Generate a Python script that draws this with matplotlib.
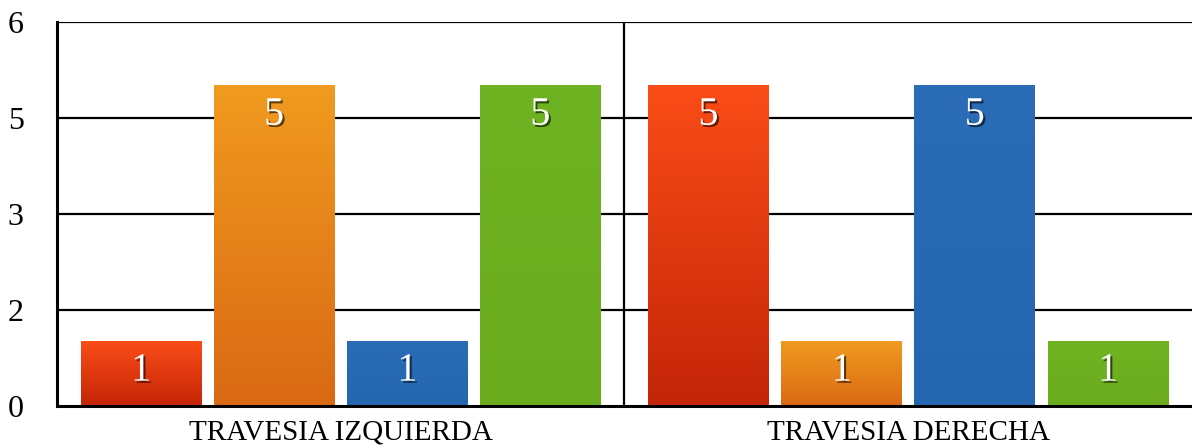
import matplotlib.pyplot as plt
import matplotlib.patheffects as pe
import numpy as np
from matplotlib.colors import LinearSegmentedColormap

categories = ['TRAVESIA IZQUIERDA', 'TRAVESIA DERECHA']
# four series per category
series_vals = [
    [1, 5],   # red
    [5, 1],   # orange
    [1, 5],   # blue
    [5, 1],   # green
]
ytick_vals = [0, 1.5, 3, 4.5, 6]
ytick_labels = ['0', '2', '3', '5', '6']

# gradient colours (top, bottom)
grads = [
    ('#fa4c17', '#c42508'),
    ('#f09a1f', '#da6914'),
    ('#2a6cb6', '#2466b0'),
    ('#70b322', '#6aac1e'),
]

plt.rcParams['font.family'] = ['Liberation Serif', 'DejaVu Serif']

fig = plt.figure(figsize=(11.92, 4.48), dpi=100)
ax = fig.add_axes([0.0478, 0.09375, 0.9522, 0.8572])

x = np.arange(len(categories))
step = 0.2346
width = 0.213

for i, vals in enumerate(series_vals):
    bars = ax.bar(x + (i - 1.5) * step, vals, width, color='none', zorder=3)
    cmap = LinearSegmentedColormap.from_list('g%d' % i, [grads[i][1], grads[i][0]])
    for b, v in zip(bars, vals):
        x0 = b.get_x()
        x1 = x0 + b.get_width()
        ax.imshow(np.linspace(0, 1, 100).reshape(-1, 1), cmap=cmap, aspect='auto',
                  origin='lower', extent=(x0, x1, 0, b.get_height()), zorder=3)
        ax.annotate(str(v), (b.get_x() + b.get_width() / 2, b.get_height()),
                    xytext=(0, -21), textcoords='offset points', ha='center', va='center',
                    fontsize=29, color='white', zorder=5,
                    path_effects=[pe.withSimplePatchShadow(offset=(1.5, -1.5), shadow_rgbFace='black', alpha=0.6)])

ax.set_xlim(-0.5, 1.5)
ax.set_ylim(0, 6)
ax.set_yticks(ytick_vals)
ax.set_yticklabels(ytick_labels, fontsize=23)
ax.set_xticks(x)
ax.set_xticklabels(categories, fontsize=21)
ax.tick_params(length=0)
ax.tick_params(axis='y', pad=24)
ax.tick_params(axis='x', pad=10)

for yv in ytick_vals[1:]:
    ax.axhline(yv, color='black', lw=1.6, zorder=1)
ax.axvline(0.5, color='black', lw=1.6, zorder=1)

for s in ['top', 'right']:
    ax.spines[s].set_visible(False)
ax.spines['left'].set_linewidth(2.2)
ax.spines['bottom'].set_linewidth(2.2)
ax.spines['bottom'].set_zorder(6)

plt.savefig('out.png', dpi=100)
